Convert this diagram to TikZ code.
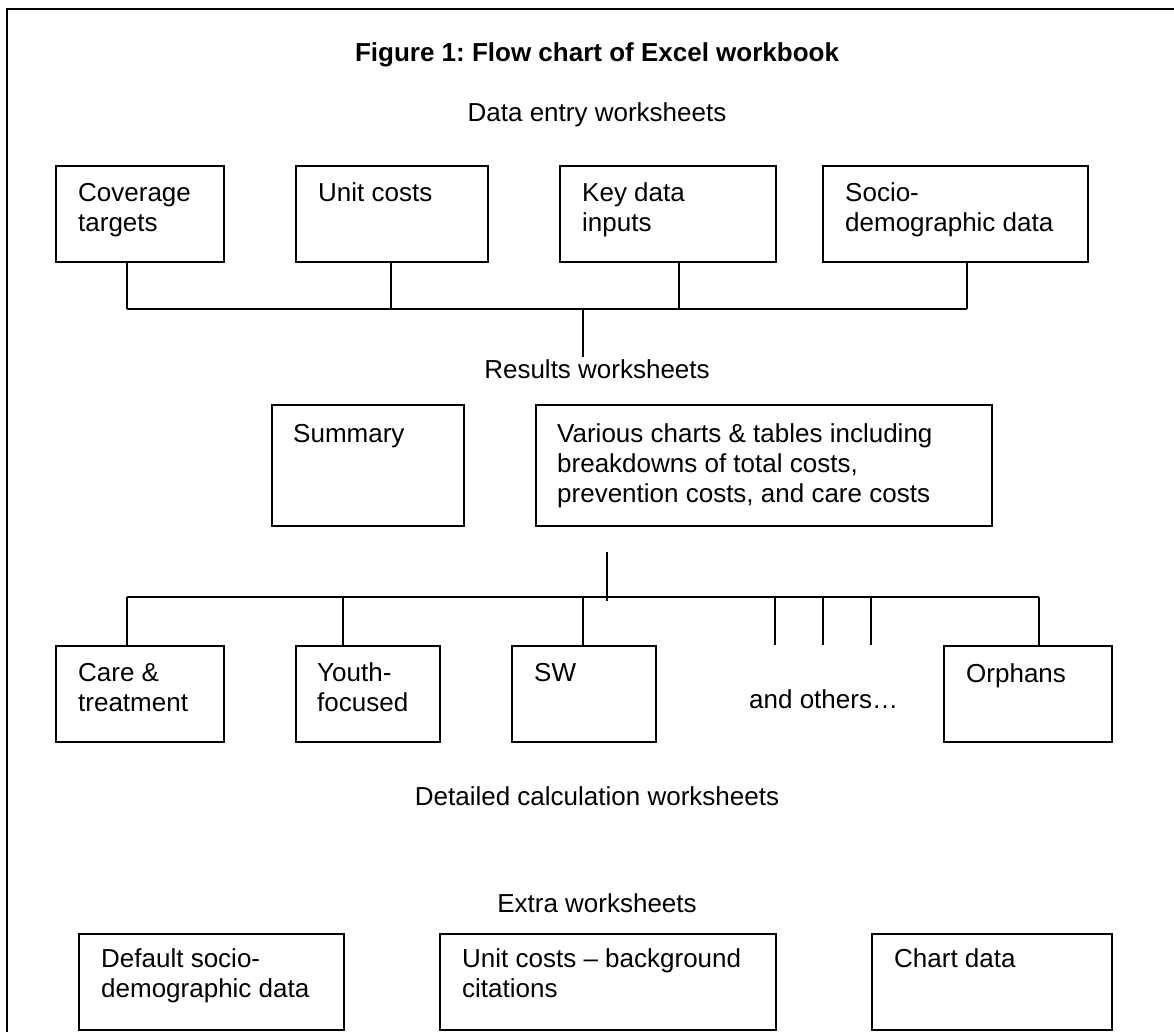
\documentclass[tikz,border=0pt]{standalone}
\usepackage{fontspec}
\setmainfont{Liberation Sans}
\frenchspacing
\begin{document}
\begin{tikzpicture}[x=1pt,y=-1pt,
  box/.style={draw, line width=2pt, inner sep=0pt, anchor=north west},
  lbl/.style={anchor=north west, inner sep=0pt, align=left, font=\fontsize{26}{30}\selectfont},
  head/.style={anchor=base, inner sep=0pt, font=\fontsize{26}{30}\selectfont},
  conn/.style={line width=2pt},
  frame/.style={line width=2pt}]
\useasboundingbox (0,0) rectangle (1174,1032);
% outer frame (right and bottom sides lie outside the picture)
\draw[frame] (7,1050) -- (7,9) -- (1190,9);

% headings
\node[head, font=\fontsize{26}{30}\selectfont\bfseries] (title) at (597,62) {Figure 1: Flow chart of Excel workbook};
\node[head] (h-data) at (597,122) {Data entry worksheets};
\node[head] (h-res) at (597,378) {Results worksheets};
\node[head] (h-calc) at (597,805) {Detailed calculation worksheets};
\node[head] (h-extra) at (597,912) {Extra worksheets};

% data entry boxes
\node[box, minimum width=168pt, minimum height=96pt] (cov) at (55,165) {};
\node[box, minimum width=192pt, minimum height=96pt] (unit) at (295,165) {};
\node[box, minimum width=216pt, minimum height=96pt] (key) at (559,165) {};
\node[box, minimum width=265pt, minimum height=96pt] (socio) at (822,165) {};
\node[lbl] (cov-t) at ([xshift=23pt,yshift=-15pt]cov.north west) {\strut Coverage\\targets};
\node[lbl] (unit-t) at ([xshift=23pt,yshift=-15pt]unit.north west) {\strut Unit costs};
\node[lbl] (key-t) at ([xshift=23pt,yshift=-15pt]key.north west) {\strut Key data\\inputs};
\node[lbl] (socio-t) at ([xshift=23pt,yshift=-15pt]socio.north west) {\strut Socio-\\demographic data};

% results boxes
\node[box, minimum width=192pt, minimum height=121pt] (summ) at (271,404) {};
\node[box, minimum width=456pt, minimum height=121pt] (vari) at (535,404) {};
\node[lbl] (summ-t) at ([xshift=22pt,yshift=-17pt]summ.north west) {\strut Summary};
\node[lbl] (vari-t) at ([xshift=22pt,yshift=-17pt]vari.north west) {\strut Various charts \& tables including\\breakdowns of total costs,\\prevention costs, and care costs};

% detailed calculation boxes
\node[box, minimum width=168pt, minimum height=96pt] (care) at (55,645) {};
\node[box, minimum width=144pt, minimum height=96pt] (youth) at (295,645) {};
\node[box, minimum width=144pt, minimum height=96pt] (sw) at (511,645) {};
\node[box, minimum width=168pt, minimum height=96pt] (orph) at (943,645) {};
\node[lbl] (care-t) at ([xshift=23pt,yshift=-15pt]care.north west) {\strut Care \&\\treatment};
\node[lbl] (youth-t) at ([xshift=22pt,yshift=-15pt]youth.north west) {\strut Youth-\\focused};
\node[lbl] (sw-t) at ([xshift=23pt,yshift=-15pt]sw.north west) {\strut SW};
\node[lbl] (orph-t) at ([xshift=23pt,yshift=-16pt]orph.north west) {\strut Orphans};
\node[head, anchor=base west] (others) at (749,708) {and others…};

% extra boxes
\node[box, minimum width=265pt, minimum height=96pt] (dflt) at (78,933) {};
\node[box, minimum width=336pt, minimum height=96pt] (ucbg) at (439,933) {};
\node[box, minimum width=240pt, minimum height=96pt] (chart) at (871,933) {};
\node[lbl] (dflt-t) at ([xshift=23pt,yshift=-13pt]dflt.north west) {\strut Default socio-\\demographic data};
\node[lbl] (ucbg-t) at ([xshift=23pt,yshift=-13pt]ucbg.north west) {\strut Unit costs – background\\citations};
\node[lbl] (chart-t) at ([xshift=23pt,yshift=-13pt]chart.north west) {\strut Chart data};

% upper bus
\coordinate (ub1) at (127,309);
\coordinate (ub2) at (391,309);
\coordinate (ub3) at (679,309);
\coordinate (ub4) at (967,309);
\coordinate (ubm) at (583,309);
\coordinate (ubd) at (583,357);
\draw[conn] (ub1) -- (ub4);
\draw[conn] (cov.south -| ub1) -- (ub1);
\draw[conn] (unit.south -| ub2) -- (ub2);
\draw[conn] (key.south -| ub3) -- (ub3);
\draw[conn] (socio.south -| ub4) -- (ub4);
\draw[conn] (ubm) -- (ubd);

% lower bus
\coordinate (lt) at (607,552);
\coordinate (lb) at (607,601);
\coordinate (lb1) at (127,597);
\coordinate (lb2) at (343,597);
\coordinate (lb3) at (583,597);
\coordinate (lb4) at (775,597);
\coordinate (lb5) at (823,597);
\coordinate (lb6) at (871,597);
\coordinate (lb7) at (1039,597);
\coordinate (ld4) at (775,645);
\coordinate (ld5) at (823,645);
\coordinate (ld6) at (871,645);
\draw[conn] (lt) -- (lb);
\draw[conn] (lb1) -- (lb7);
\draw[conn] (lb1) -- (care.north -| lb1);
\draw[conn] (lb2) -- (youth.north -| lb2);
\draw[conn] (lb3) -- (sw.north -| lb3);
\draw[conn] (lb4) -- (ld4);
\draw[conn] (lb5) -- (ld5);
\draw[conn] (lb6) -- (ld6);
\draw[conn] (lb7) -- (orph.north -| lb7);
\end{tikzpicture}
\end{document}
